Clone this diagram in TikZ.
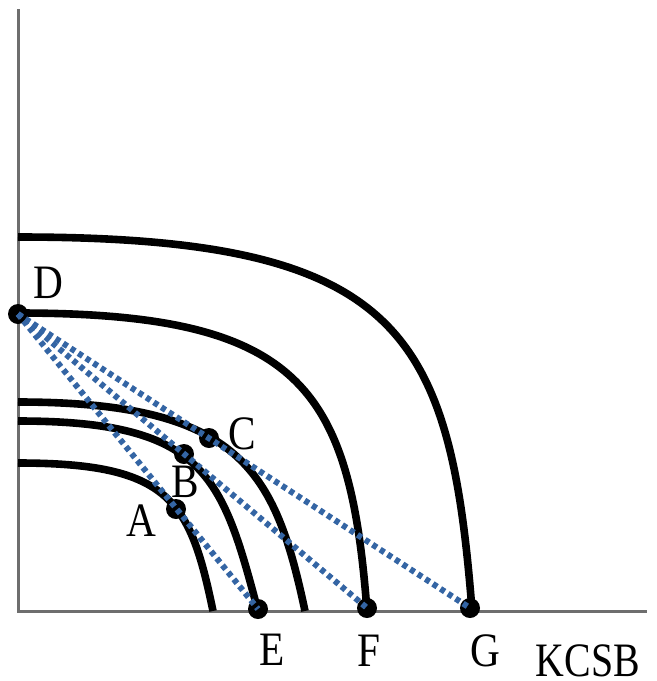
\documentclass[tikz,border=0pt]{standalone}
\usepackage{fontspec}
\setmainfont{Liberation Serif}
\usepackage{tikz}
\usetikzlibrary{positioning}
\definecolor{rayblue}{RGB}{52,101,164}
\newcommand{\narrowtxt}[1]{\scalebox{0.86}[1]{#1}}

\begin{document}
\begin{tikzpicture}[x=0.5pt, y=-0.5pt,
  dot/.style={circle, fill=black, inner sep=0pt, minimum size=10pt},
  lbl/.style={inner sep=0pt, font=\fontsize{24}{24}\selectfont},
  curve/.style={line width=3.8pt},
  ray/.style={rayblue, line width=3pt, dash pattern=on 2.5pt off 2pt},
  axis/.style={black!57, line width=1.5pt},
]
\useasboundingbox (0,0) rectangle (657,681);
\coordinate (top) at (18.5,9);
\coordinate (O) at (18.5,611);
\coordinate (right) at (647,611);
\draw[axis] (top) -- (O) -- (right);

% frontiers
\draw[curve] (18,237) .. controls (400,237) and (450,330) .. (472,610);
\draw[curve] (18,313) .. controls (300,313) and (350,386) .. (367,611);
\draw[curve] (18,402) .. controls (240,402) and (275,470) .. (305,611);
\draw[curve] (18,421) .. controls (205,421) and (222,475) .. (258,611);
\draw[curve] (18,463) .. controls (170,463) and (190,500) .. (213,611);

% points
\node[dot] (D) at (18,314) {};
\node[dot] (E) at (258,609) {};
\node[dot] (F) at (367,608) {};
\node[dot] (G) at (470,608) {};
\node[dot] (A) at (176,509) {};
\node[dot] (B) at (184,454) {};
\node[dot] (C) at (209,438) {};

\draw[ray] (D.center) -- (E.center);
\draw[ray] (D.center) -- (F.center);
\draw[ray] (D.center) -- (G.center);

% labels
\node[lbl] (lD) at (48,283) {\narrowtxt{D}};
\node[lbl] (lA) at (141,521) {\narrowtxt{A}};
\node[lbl] (lB) at (185,482) {\narrowtxt{B}};
\node[lbl] (lC) at (242,434) {\narrowtxt{C}};
\node[lbl] (lE) at (272,650) {\narrowtxt{E}};
\node[lbl] (lF) at (369,651) {\narrowtxt{F}};
\node[lbl] (lG) at (485,651) {\narrowtxt{G}};
\node[lbl] (kcsb) at (588,661) {\scalebox{0.83}[1]{KCSB}};
\end{tikzpicture}
\end{document}
